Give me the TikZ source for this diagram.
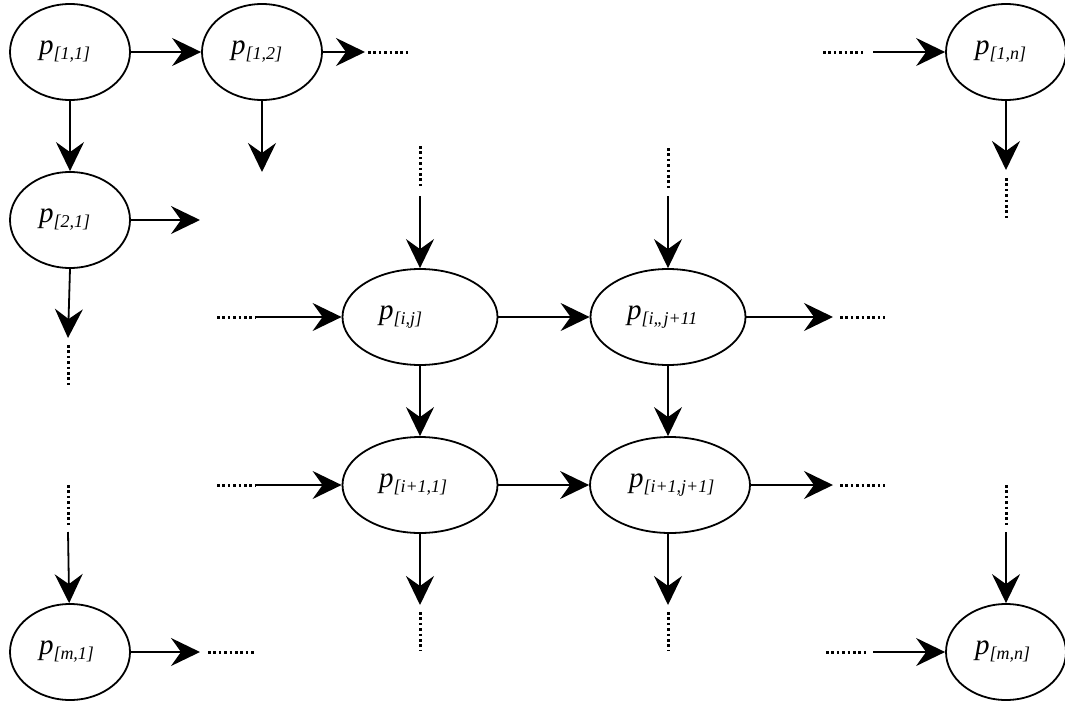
\documentclass[tikz,border=0pt]{standalone}
\usepackage{fontspec}
\setmainfont{Liberation Serif}
\usetikzlibrary{shapes.geometric,arrows.meta}

\newcommand{\plab}[1]{{\fontsize{29}{30}\selectfont\itshape p}{\fontsize{18}{20}\selectfont\itshape\raisebox{-5pt}{#1}}}

\begin{document}
\begin{tikzpicture}[x=1pt,y=-1pt,line cap=butt,
	proc/.style={ellipse, draw, line width=1.8pt, minimum width=120pt, minimum height=96pt, inner sep=0pt, text width=62pt, align=left},
	wide/.style={minimum width=155pt, text width=82pt},
	arr/.style={line width=1.8pt, -{Stealth[length=29pt, width=28pt, inset=10pt]}},
	dots/.style={line width=3pt, dash pattern=on 2.6pt off 2.8pt}]
	\useasboundingbox (0,0) rectangle (1065,704);
	% processes
	\node[proc] (p11) at (70,52) {\plab{[1,1]}};
	\node[proc] (p12) at (262,52) {\plab{[1,2]}};
	\node[proc] (p1n) at (1006,52) {\plab{[1,n]}};
	\node[proc] (p21) at (70,220) {\plab{[2,1]}};
	\node[proc,wide] (pij) at (420,317) {\plab{[i,j]}};
	\node[proc,wide] (pij1) at (668,317) {\plab{[i,,j+11}};
	\node[proc,wide] (pi11) at (420,485) {\plab{[i+1,1]}};
	\node[proc,wide,minimum width=160pt] (pi1j1) at (670,485) {\plab{[i+1,j+1]}};
	\node[proc] (pm1) at (70,652) {\plab{[m,1]}};
	\node[proc] (pmn) at (1006,652) {\plab{[m,n]}};
	% free ends
	\coordinate (a12r) at (365,52);
	\coordinate (a12d) at (262,172);
	\coordinate (s1n) at (873,52);
	\coordinate (a1nd) at (1006,170);
	\coordinate (a21r) at (200,220);
	\coordinate (a21d) at (68,338);
	\coordinate (sij) at (420,196);
	\coordinate (sijl) at (255,317);
	\coordinate (sj1) at (668,196);
	\coordinate (aj1r) at (833,317);
	\coordinate (si1l) at (255,485);
	\coordinate (ai1r) at (833,485);
	\coordinate (ai1d) at (420,605);
	\coordinate (aj1d) at (668,605);
	\coordinate (sm1) at (68,532);
	\coordinate (am1r) at (200,652);
	\coordinate (smn) at (1006,532);
	\coordinate (smnl) at (873,652);
	% arrows
	\draw[arr] (p11) -- (p12);
	\draw[arr] (p11) -- (p21);
	\draw[arr] (p12) -- (a12r);
	\draw[arr] (p12) -- (a12d);
	\draw[arr] (s1n) -- (p1n);
	\draw[arr] (p1n) -- (a1nd);
	\draw[arr] (p21) -- (a21r);
	\draw[arr] (p21.south) -- (a21d);
	\draw[arr] (sij) -- (pij);
	\draw[arr] (sijl) -- (pij);
	\draw[arr] (pij) -- (pij1);
	\draw[arr] (sj1) -- (pij1);
	\draw[arr] (pij1) -- (aj1r);
	\draw[arr] (pij) -- (pi11);
	\draw[arr] (pij1) -- (pi1j1.north -| pij1);
	\draw[arr] (si1l) -- (pi11);
	\draw[arr] (pi11) -- (pi1j1);
	\draw[arr] (pi1j1) -- (ai1r);
	\draw[arr] (pi11) -- (ai1d);
	\draw[arr] (pi1j1.south -| aj1d) -- (aj1d);
	\draw[arr] (sm1) -- (pm1);
	\draw[arr] (pm1) -- (am1r);
	\draw[arr] (smn) -- (pmn);
	\draw[arr] (smnl) -- (pmn);
	% dotted continuations
	\draw[dots] (368,52) -- (410,52);
	\draw[dots] (823,52) -- (863,52);
	\draw[dots] (1006,178) -- (1006,218);
	\draw[dots] (68,345) -- (68,385);
	\draw[dots] (68,485) -- (68,525);
	\draw[dots] (208,652) -- (255,652);
	\draw[dots] (826,652) -- (866,652);
	\draw[dots] (420,146) -- (420,186);
	\draw[dots] (668,148) -- (668,188);
	\draw[dots] (217,317) -- (255,317);
	\draw[dots] (840,317) -- (885,317);
	\draw[dots] (217,485) -- (255,485);
	\draw[dots] (840,485) -- (885,485);
	\draw[dots] (420,612) -- (420,650);
	\draw[dots] (668,612) -- (668,650);
	\draw[dots] (1006,485) -- (1006,525);
\end{tikzpicture}
\end{document}
